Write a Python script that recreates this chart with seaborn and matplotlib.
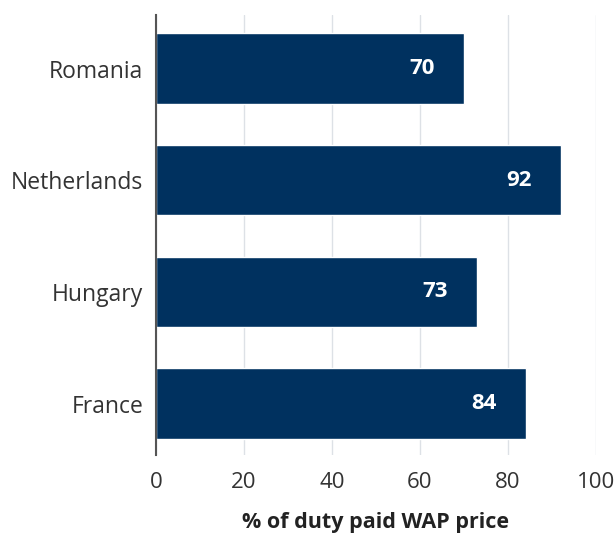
import matplotlib
matplotlib.use("Agg")
import matplotlib.pyplot as plt
import seaborn as sns
import pandas as pd

countries = ["Romania", "Netherlands", "Hungary", "France"]
values = [70, 92, 73, 84]
xticks = [0, 20, 40, 60, 80, 100]
xlabel = "% of duty paid WAP price"

sns.set_theme(style="white")
plt.rcParams['font.family'] = ['Open Sans', 'DejaVu Sans']

df = pd.DataFrame({"country": countries, "value": values})

fig = plt.figure(figsize=(6.16, 5.34), dpi=100)
ax = fig.add_axes([0.2532, 0.148, 0.7143, 0.824])

sns.barplot(data=df, x="value", y="country", color="#00315f", saturation=1,
            width=0.63, ax=ax, order=countries, zorder=3)

ax.set_xlim(0, 100)
ax.set_ylim(3.46, -0.48)
ax.set_xticks(xticks)
ax.set_xticklabels([str(t) for t in xticks], fontsize=16, color="#333333")
ax.tick_params(axis='y', labelsize=16.5, labelcolor="#333333", length=0, pad=9)
ax.tick_params(axis='x', length=0, pad=12)
ax.grid(axis='x', color="#dde1e6", linewidth=1, zorder=0)
ax.set_axisbelow(True)
for s in ["top", "right", "bottom"]:
    ax.spines[s].set_visible(False)
ax.spines["left"].set_color("#555555")
ax.spines["left"].set_linewidth(1.5)
ax.spines["left"].set_zorder(5)
ax.set_ylabel("")
ax.set_xlabel(xlabel, fontsize=15.5, fontweight="bold", color="#222222", labelpad=14)

for i, v in enumerate(values):
    ax.annotate(str(v), xy=(v, i), xytext=(-21, 0), textcoords="offset points",
                ha="right", va="center", color="white", fontsize=16,
                fontweight="bold", zorder=6)

fig.savefig("out.png", dpi=100)
